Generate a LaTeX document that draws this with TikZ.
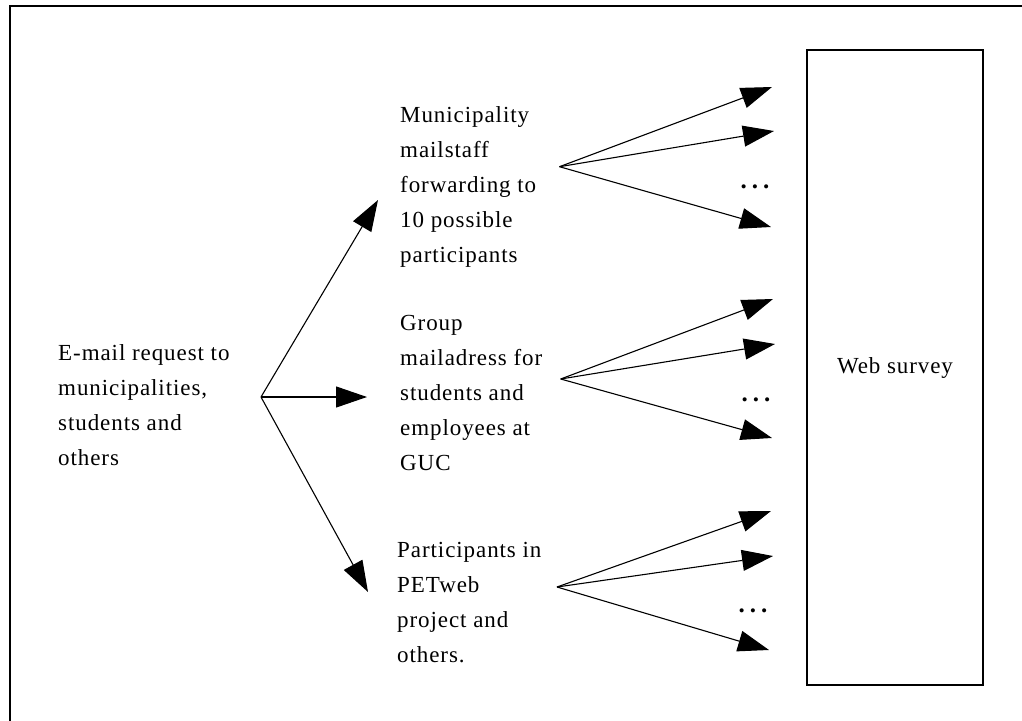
\documentclass[tikz,border=0pt]{standalone}
\usepackage{fontspec}
\setmainfont{Liberation Serif}[LetterSpace=4]
\usetikzlibrary{arrows.meta}
\begin{document}
\begin{tikzpicture}[x=1pt,y=-1pt,
  lbl/.style={anchor=base west,inner sep=0pt,font=\fontsize{23}{35}\selectfont},
  arr/.style={line width=1.1pt,-{Triangle[length=31pt,width=21pt]}},
  dotsl/.style={anchor=base,inner sep=0pt,font=\fontsize{25}{26}\selectfont\bfseries},
  boxw/.style={draw,line width=1.5pt,minimum width=176pt,minimum height=635pt,inner sep=0pt,font=\fontsize{23}{26}\selectfont}]
\useasboundingbox (0,0) rectangle (1022,720);
\draw[line width=2pt] (1024,6) -| (10,722);
% texts
\node[lbl] (src) at (58,360) {\begin{tabular}[t]{@{}l@{}}E-mail request to\\ municipalities,\\ students and\\ others\end{tabular}};
\node[lbl] (m1) at (400,122) {\begin{tabular}[t]{@{}l@{}}Municipality\\ mailstaff\\ forwarding to\\ 10 possible\\ participants\end{tabular}};
\node[lbl] (m2) at (400,330) {\begin{tabular}[t]{@{}l@{}}Group\\ mailadress for\\ students and\\ employees at\\ GUC\end{tabular}};
\node[lbl] (m3) at (397,557) {\begin{tabular}[t]{@{}l@{}}Participants in\\ PETweb\\ project and\\ others.\end{tabular}};
\node[boxw] (web) at (895,367.5) {Web survey};
% branch points
\coordinate (s0) at (261,397);
\coordinate (s1) at (559.5,166.7);
\coordinate (s2) at (560.7,379);
\coordinate (s3) at (557,587);
% main arrows
\coordinate (t01) at (378,200);
\coordinate (t02) at (367,397);
\coordinate (t03) at (368,592);
\draw[arr] (s0) -- (t01);
\draw[arr] (s0) -- (t02);
\draw[arr] (s0) -- (t03);
% group 1
\coordinate (t11) at (772,87);
\coordinate (t12) at (774,131);
\coordinate (t13) at (771,227);
\draw[arr] (s1) -- (t11);
\draw[arr] (s1) -- (t12);
\draw[arr] (s1) -- (t13);
\node[dotsl] (d1) at (755,188) {.\kern5pt.\kern5pt.};
% group 2
\coordinate (t21) at (773,299);
\coordinate (t22) at (775,344);
\coordinate (t23) at (772,438);
\draw[arr] (s2) -- (t21);
\draw[arr] (s2) -- (t22);
\draw[arr] (s2) -- (t23);
\node[dotsl] (d2) at (756,401) {.\kern5pt.\kern5pt.};
% group 3
\coordinate (t31) at (771,511);
\coordinate (t32) at (773,556);
\coordinate (t33) at (769,650);
\draw[arr] (s3) -- (t31);
\draw[arr] (s3) -- (t32);
\draw[arr] (s3) -- (t33);
\node[dotsl] (d3) at (753,612) {.\kern5pt.\kern5pt.};
\end{tikzpicture}
\end{document}
